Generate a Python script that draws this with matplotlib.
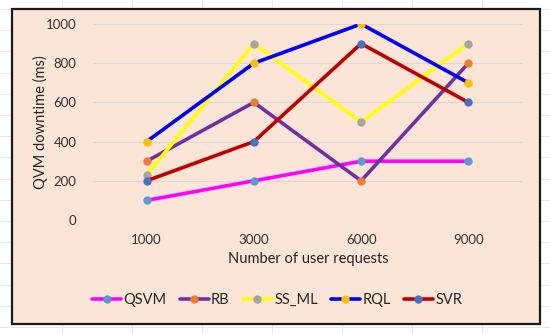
import matplotlib
matplotlib.use("Agg")
import matplotlib.pyplot as plt
from matplotlib.patches import Rectangle
from matplotlib.lines import Line2D

categories = ["1000", "3000", "6000", "9000"]
series_names = ["QSVM", "RB", "SS_ML", "RQL", "SVR"]
qsvm = [100, 200, 300, 300]
rb = [300, 600, 200, 800]
ss_ml = [230, 900, 500, 900]
rql = [400, 800, 1000, 700]
svr = [200, 400, 900, 600]
y_ticks = [0, 200, 400, 600, 800, 1000]

line_colors = ["#FF00FF", "#7030A0", "#FFFF00", "#0000FF", "#C00000"]
marker_colors = ["#5B9BD5", "#ED7D31", "#A5A5A5", "#FFC000", "#4472C4"]

plt.rcParams['font.family'] = ['Lato', 'DejaVu Sans']

W, H = 550, 334
fig = plt.figure(figsize=(W / 100, H / 100), dpi=100)
fig.patch.set_facecolor("white")

def fx(px):
    return px / W

def fy(py):
    return (H - py) / H

# faint spreadsheet grid
for k in range(20):
    y = 9 + 21.2 * k
    if y > H:
        break
    fig.add_artist(Line2D([0, 1], [fy(y), fy(y)], transform=fig.transFigure,
                          color="#E4E4E4", lw=0.6, zorder=0))
for k in range(10):
    x = 62 + 70 * k
    if x > W:
        break
    fig.add_artist(Line2D([fx(x), fx(x)], [0, 1], transform=fig.transFigure,
                          color="#E4E4E4", lw=0.6, zorder=0))

# chart box
fig.add_artist(Rectangle((fx(12), fy(324)), fx(540) - fx(12), fy(9) - fy(324),
                         transform=fig.transFigure, facecolor="#FBE5D6",
                         edgecolor="#1a1a1a", lw=1.6, zorder=1))

ax = fig.add_axes([fx(93), fy(220), fx(522) - fx(93), fy(24) - fy(220)])
ax.set_facecolor("none")
ax.set_zorder(2)

data = [qsvm, rb, ss_ml, rql, svr]
x = list(range(len(categories)))
for name, vals, lc, mc in zip(series_names, data, line_colors, marker_colors):
    ax.plot(x, vals, color=lc, lw=2.6, marker="o", markersize=5,
            markerfacecolor=mc, markeredgecolor=mc, label=name, zorder=3,
            solid_capstyle="round")

ax.set_xlim(-0.5, len(categories) - 0.5)
ax.set_ylim(0, 1000)
ax.set_yticks(y_ticks)
ax.set_xticks(x)
ax.set_xticklabels(categories)
ax.grid(axis="y", color="#D9D9D9", lw=0.8)
ax.set_axisbelow(True)
for s in ax.spines.values():
    s.set_visible(False)
ax.tick_params(length=0, labelsize=9.5, colors="#333333")
ax.tick_params(axis="x", pad=10)
ax.tick_params(axis="y", pad=12)

fig.text(fx(308), fy(259), "Number of user requests", ha="center", va="center",
         fontsize=10.5, color="#262626")
fig.text(fx(40), fy(122), "QVM downtime (ms)", ha="center", va="center",
         rotation=90, fontsize=10.5, color="#262626")

handles, labels = ax.get_legend_handles_labels()
fig.legend(handles, labels, loc="center", bbox_to_anchor=(fx(277), fy(300)),
           ncol=5, frameon=False, fontsize=10.5, handlelength=2.0,
           handletextpad=0.15, columnspacing=0.9, labelcolor="#262626")

fig.savefig("out.png", dpi=100)
